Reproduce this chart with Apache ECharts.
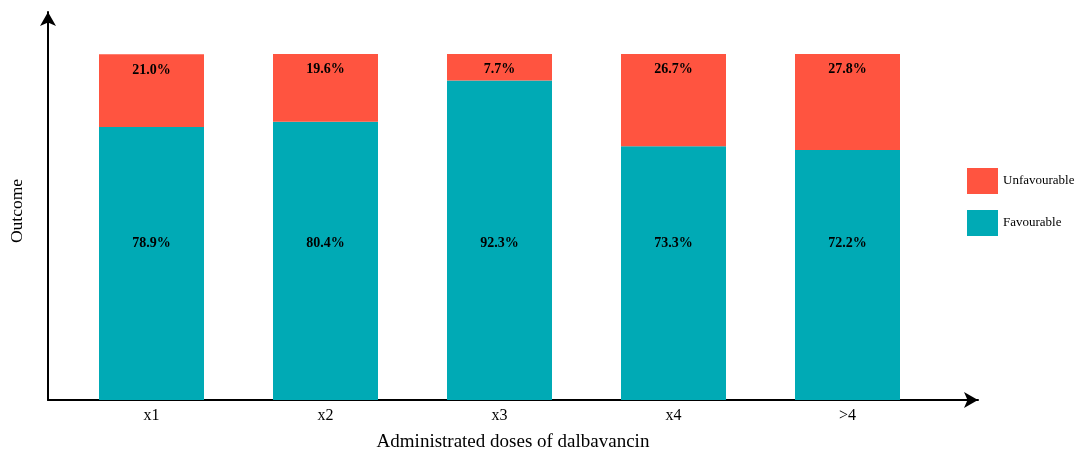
<!DOCTYPE html>
<html>
<head>
<meta charset="utf-8">
<script src="https://cdn.jsdelivr.net/npm/echarts@6/dist/echarts.min.js"></script>
<style>
html,body{margin:0;padding:0;background:#fff;}
#chart{width:1075px;height:450px;}
</style>
</head>
<body>
<div id="chart"></div>
<script>
// ---- data ----
const categories = ['x1', 'x2', 'x3', 'x4', '>4'];
const favourable = [78.9, 80.4, 92.3, 73.3, 72.2];
const unfavourable = [21.0, 19.6, 7.7, 26.7, 27.8];
const seriesNames = ['Favourable', 'Unfavourable'];

const FONT = '"Liberation Serif", "Times New Roman", serif';
const chart = echarts.init(document.getElementById('chart'));
const YMAX = 112.1;

chart.setOption({
  animation: false,
  backgroundColor: '#fff',
  grid: [
    { left: 64.5, right: 140.5, top: 12, bottom: 50, outerBoundsMode: 'none', containLabel: false },
    { left: 48, right: 97, top: 12, bottom: 50, outerBoundsMode: 'none', containLabel: false }
  ],
  legend: {
    orient: 'vertical',
    left: 967, top: 168, padding: 0,
    itemWidth: 31, itemHeight: 26, itemGap: 16,
    data: [seriesNames[1], seriesNames[0]],
    textStyle: { fontFamily: FONT, fontSize: 13, color: '#000' },
    icon: 'rect'
  },
  xAxis: [
    {
      gridIndex: 0, type: 'category', data: categories,
      axisLine: { show: false }, axisTick: { show: false }, splitLine: { show: false },
      axisLabel: { fontFamily: FONT, fontSize: 16, color: '#000', margin: 8 }
    },
    {
      gridIndex: 1, type: 'value', min: 0, max: 1,
      splitLine: { show: false }, axisTick: { show: false }, axisLabel: { show: false },
      axisLine: { show: true, onZero: false, lineStyle: { color: '#000', width: 2 }, symbol: ['none', 'arrow'], symbolSize: [12, 14] },
      name: 'Administrated doses of dalbavancin',
      nameLocation: 'middle', nameGap: 33,
      nameTextStyle: { fontFamily: FONT, fontSize: 19, color: '#000' }
    }
  ],
  yAxis: [
    {
      gridIndex: 0, type: 'value', min: 0, max: YMAX,
      show: false
    },
    {
      gridIndex: 1, type: 'value', min: 0, max: YMAX,
      splitLine: { show: false }, axisTick: { show: false }, axisLabel: { show: false },
      axisLine: { show: true, onZero: false, lineStyle: { color: '#000', width: 2 }, symbol: ['none', 'arrow'], symbolSize: [12, 14] },
      name: 'Outcome',
      nameLocation: 'middle', nameGap: 22,
      nameTextStyle: { fontFamily: FONT, fontSize: 17.5, color: '#000', padding: [0, 0, 0, -10] }
    }
  ],
  series: [
    {
      name: seriesNames[0], type: 'bar', stack: 'all', barWidth: 105,
      xAxisIndex: 0, yAxisIndex: 0,
      itemStyle: { color: '#00AAB5' },
      data: favourable,
      label: {
        show: true, position: 'insideBottom', distance: 150,
        formatter: p => p.value.toFixed(1) + '%',
        fontFamily: FONT, fontSize: 14, fontWeight: 'bold', color: '#000'
      }
    },
    {
      name: seriesNames[1], type: 'bar', stack: 'all', barWidth: 105,
      xAxisIndex: 0, yAxisIndex: 0,
      itemStyle: { color: '#FF5440' },
      data: unfavourable,
      label: {
        show: true, position: 'insideTop', distance: 9,
        formatter: p => p.value.toFixed(1) + '%',
        fontFamily: FONT, fontSize: 14, fontWeight: 'bold', color: '#000'
      }
    }
  ]
});
</script>
</body>
</html>
